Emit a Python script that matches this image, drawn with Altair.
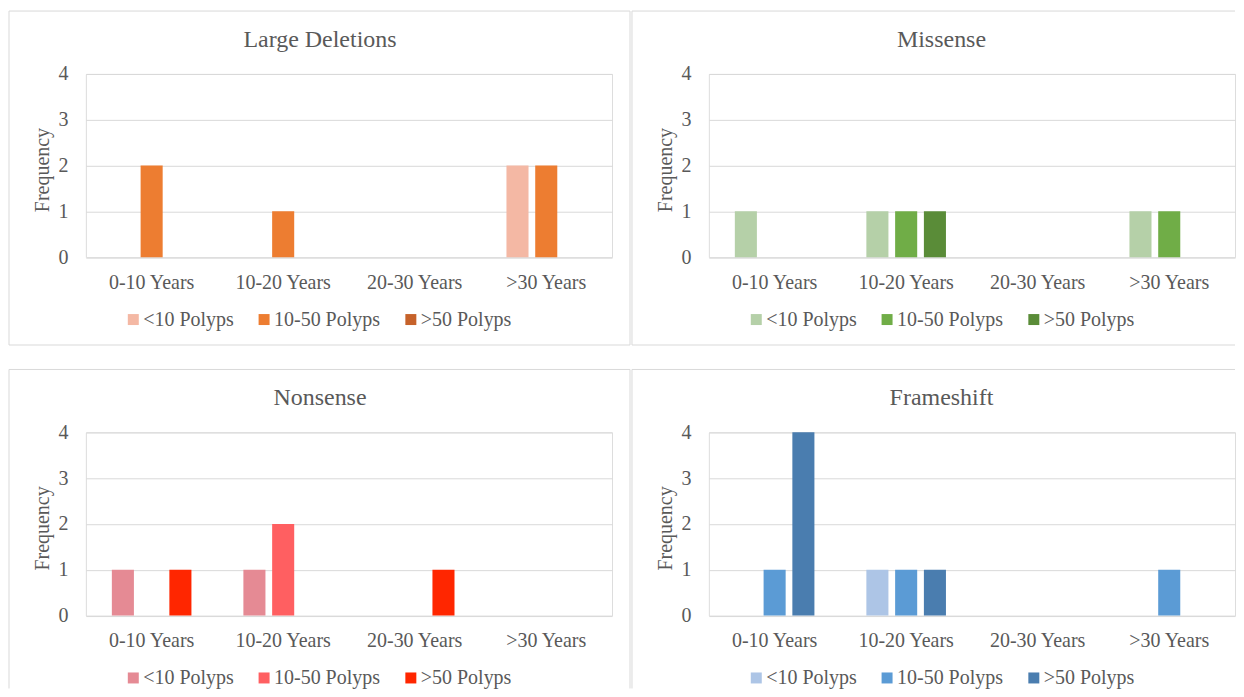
import altair as alt
import pandas as pd

# ---------------- data ----------------
categories = ["0-10 Years", "10-20 Years", "20-30 Years", ">30 Years"]
groups = ["<10 Polyps", "10-50 Polyps", ">50 Polyps"]

panel_titles = ["Large Deletions", "Missense", "Nonsense", "Frameshift"]

# values per polyp group, across the four age categories
ld_lt10 = [0, 0, 0, 2]
ld_10_50 = [2, 1, 0, 2]
ld_gt50 = [0, 0, 0, 0]

ms_lt10 = [1, 1, 0, 1]
ms_10_50 = [0, 1, 0, 1]
ms_gt50 = [0, 1, 0, 0]

ns_lt10 = [1, 1, 0, 0]
ns_10_50 = [0, 2, 0, 0]
ns_gt50 = [1, 0, 1, 0]

fs_lt10 = [0, 1, 0, 0]
fs_10_50 = [1, 1, 0, 1]
fs_gt50 = [4, 1, 0, 0]

ld_colors = ["#F4B8A4", "#ED7D31", "#C6622A"]
ms_colors = ["#B5D0A8", "#70AD47", "#5A8C38"]
ns_colors = ["#E58A94", "#FF5F61", "#FF2600"]
fs_colors = ["#ADC5E6", "#5B9BD5", "#4A7DAF"]

# ---------------- style ----------------
FONT = "Liberation Serif"
TXT = "#595959"
GRID = "#D9D9D9"
W = 527
H = 183.5


def frame(series):
    rows = []
    for g, vals in zip(groups, series):
        for c, v in zip(categories, vals):
            if v > 0:
                rows.append({"cat": c, "group": g, "value": v})
    return pd.DataFrame(rows)


def rule(**enc):
    return alt.Chart(pd.DataFrame({"k": [0]})).mark_rule(
        color=GRID, strokeWidth=1
    ).encode(**enc)


def panel(title, series, colors, right_border, bottom_border, title_x):
    df = frame(series)
    bars = alt.Chart(df).mark_bar().encode(
        x=alt.X(
            "cat:N",
            sort=categories,
            scale=alt.Scale(domain=categories, paddingInner=0.395, paddingOuter=0.1975),
            axis=alt.Axis(
                title=None, labelAngle=0, domain=False, ticks=False, grid=False,
                labelFont=FONT, labelFontSize=20, labelColor=TXT,
                labelBaseline="alphabetic", labelPadding=31, labelLimit=300,
            ),
        ),
        xOffset=alt.XOffset(
            "group:N",
            sort=groups,
            scale=alt.Scale(domain=groups, paddingInner=0.233, paddingOuter=0),
        ),
        y=alt.Y(
            "value:Q",
            scale=alt.Scale(domain=[0, 4], nice=False),
            axis=alt.Axis(
                values=[0, 1, 2, 3, 4], format="d", grid=True, gridColor=GRID,
                gridWidth=1, domain=False, ticks=False,
                labelFont=FONT, labelFontSize=20, labelColor=TXT, labelPadding=18,
                title="Frequency", titleFont=FONT, titleFontSize=20,
                titleFontWeight="normal", titleColor=TXT, titlePadding=5,
                titleY=H / 2 + 4,
            ),
        ),
        color=alt.Color(
            "group:N",
            sort=groups,
            scale=alt.Scale(domain=groups, range=colors),
            title=None,
            legend=alt.Legend(
                orient="none", legendX=37.5, legendY=236, direction="horizontal",
                columns=3, symbolType="square", symbolSize=121,
                symbolStrokeWidth=0, symbolOpacity=1,
                labelFont=FONT, labelFontSize=20, labelColor=TXT,
                labelOffset=0, columnPadding=20, padding=0, labelLimit=300,
            ),
        ),
    )

    heading = alt.Chart(pd.DataFrame({"t": [title]})).mark_text(
        font=FONT, fontSize=24, color=TXT, align="center", baseline="alphabetic"
    ).encode(text="t:N", x=alt.value(title_x), y=alt.value(-27.3))

    right = W + 18 if right_border else W
    bottom = H + 88 if bottom_border else H + 73
    layers = [
        rule(x=alt.value(-77), x2=alt.value(right), y=alt.value(-63)),
        rule(x=alt.value(-77), y=alt.value(-63), y2=alt.value(bottom)),
    ]
    if right_border:
        layers.append(rule(x=alt.value(W + 18), y=alt.value(-63), y2=alt.value(bottom)))
    if bottom_border:
        layers.append(rule(x=alt.value(-77), x2=alt.value(right), y=alt.value(H + 88)))
    layers.append(bars)
    layers.append(heading)

    return alt.layer(*layers).properties(
        width=W,
        height=H,
    ).resolve_scale(color="independent")


p1 = panel(panel_titles[0], [ld_lt10, ld_10_50, ld_gt50], ld_colors, True, True, 234.5)
p2 = panel(panel_titles[1], [ms_lt10, ms_10_50, ms_gt50], ms_colors, False, True, 233)
p3 = panel(panel_titles[2], [ns_lt10, ns_10_50, ns_gt50], ns_colors, True, False, 234.5)
p4 = panel(panel_titles[3], [fs_lt10, fs_10_50, fs_gt50], fs_colors, False, False, 233)

chart = alt.vconcat(
    alt.hconcat(p1, p2, spacing=0),
    alt.hconcat(p3, p4, spacing=0),
    spacing=22,
).resolve_scale(color="independent").properties(
    padding={"left": 0, "top": 1.5, "right": 0, "bottom": 0}
).configure_view(strokeWidth=0).configure(font=FONT)

chart.save("out.html", embed_options={"renderer": "svg", "actions": False})
